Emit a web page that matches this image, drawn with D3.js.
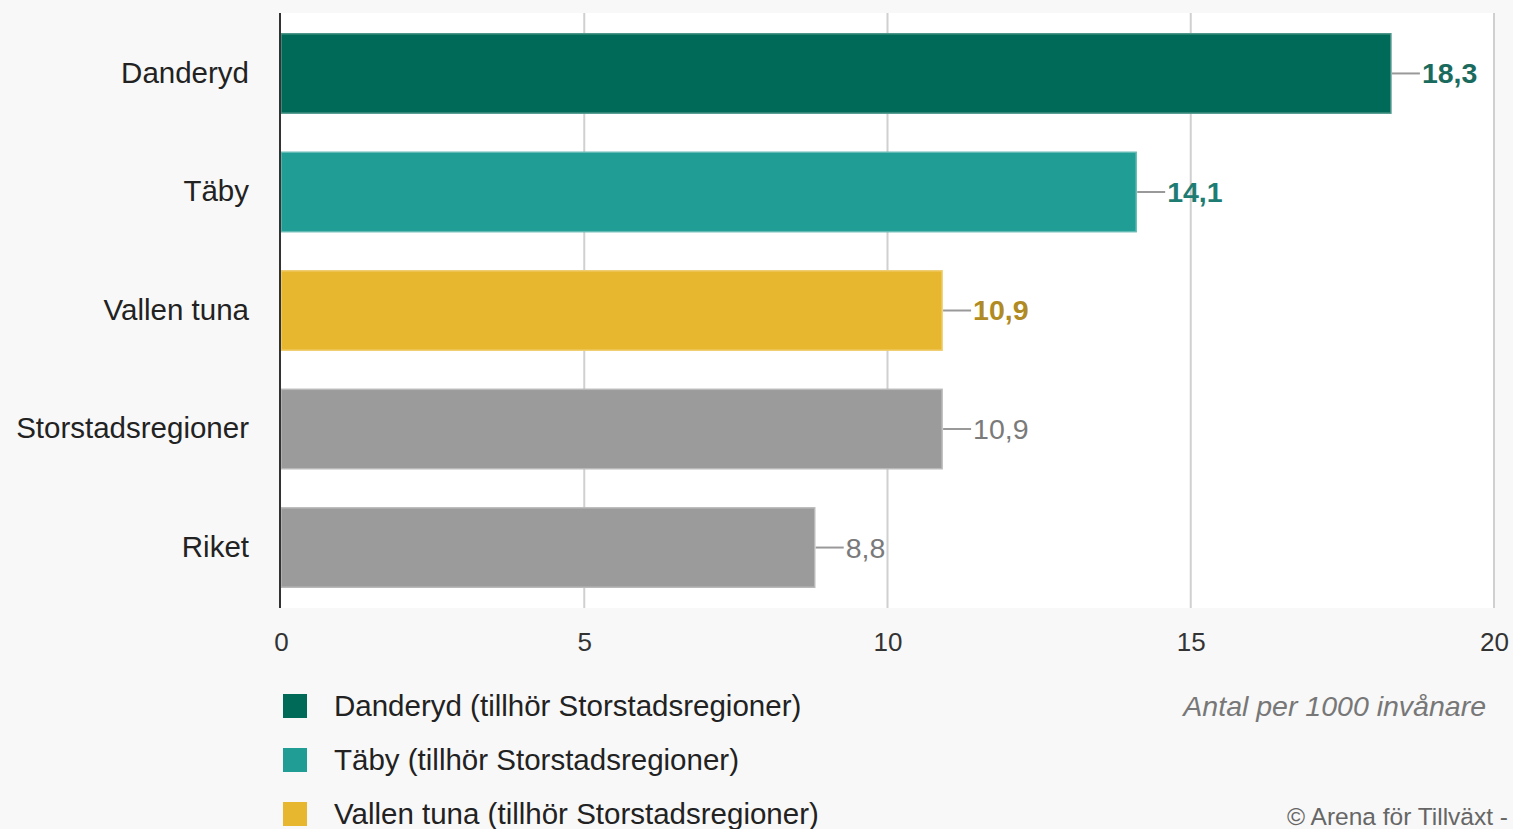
<!DOCTYPE html>
<html>
<head>
<meta charset="utf-8">
<script src="https://cdn.jsdelivr.net/npm/d3@7"></script>
<style>
  html, body { margin: 0; padding: 0; background: #f8f8f8; }
  svg { display: block; font-family: "Liberation Sans", Arial, sans-serif; }
</style>
</head>
<body>
<div id="chart"></div>
<script>
// data
var categories = ["Danderyd", "Täby", "Vallen tuna", "Storstadsregioner", "Riket"];
var values = [18.3, 14.1, 10.9, 10.9, 8.8];
var barColors = ["#006a58", "#209d94", "#e8b730", "#9b9b9b", "#9b9b9b"];
var labelColors = ["#1a6b5d", "#1e7c73", "#b08a22", "#7a7a7a", "#7a7a7a"];
var labelBold = [true, true, true, false, false];
var xTicks = [0, 5, 10, 15, 20];
var legendItems = ["Danderyd (tillhör Storstadsregioner)", "Täby (tillhör Storstadsregioner)", "Vallen tuna (tillhör Storstadsregioner)"];
var legendColors = ["#006a58", "#209d94", "#e8b730"];
var unitText = "Antal per 1000 invånare";
var sourceText = "© Arena för Tillväxt -";

var W = 1513, H = 829;
var margin = {top: 13, right: 19, bottom: 221, left: 281};
var width = W - margin.left - margin.right;
var height = H - margin.top - margin.bottom;

var svg = d3.select("#chart")
    .append("svg")
    .attr("width", W)
    .attr("height", H);

svg.append("rect")
    .attr("width", W).attr("height", H)
    .attr("fill", "#f8f8f8");

var g = svg.append("g")
    .attr("transform", "translate(" + margin.left + "," + margin.top + ")");

// plot background
g.append("rect")
    .attr("width", width).attr("height", height)
    .attr("fill", "#ffffff");

var x = d3.scaleLinear()
    .domain([0, 20])
    .range([0, width]);

var y = d3.scaleBand()
    .domain(categories)
    .range([0, height])
    .paddingInner(0.33)
    .paddingOuter(0.175);

// gridlines
g.append("g")
    .selectAll("line")
    .data(xTicks.filter(function(d) { return d > 0; }))
    .enter()
    .append("line")
    .attr("x1", function(d) { return x(d); })
    .attr("x2", function(d) { return x(d); })
    .attr("y1", 0)
    .attr("y2", height)
    .attr("stroke", "#d0d0d0")
    .attr("stroke-width", 2);

// x axis ticks
var xAxis = g.append("g")
    .attr("transform", "translate(0," + height + ")")
    .call(d3.axisBottom(x).tickValues(xTicks).tickSize(0).tickPadding(25).tickFormat(d3.format("d")));
xAxis.select(".domain").remove();
xAxis.selectAll("text")
    .attr("font-size", 26)
    .attr("font-family", "Liberation Sans, Arial, sans-serif")
    .attr("fill", "#333");

// y labels
var yAxis = g.append("g")
    .call(d3.axisLeft(y).tickSize(0).tickPadding(32));
yAxis.select(".domain").remove();
yAxis.selectAll("text")
    .attr("font-size", 29.5)
    .attr("font-family", "Liberation Sans, Arial, sans-serif")
    .attr("fill", "#222");

// bars
g.append("g")
    .selectAll("rect")
    .data(values)
    .enter()
    .append("rect")
    .attr("x", x(0))
    .attr("y", function(d, i) { return y(categories[i]); })
    .attr("width", function(d) { return x(d) - x(0); })
    .attr("height", y.bandwidth())
    .attr("fill", function(d, i) { return barColors[i]; })
    .attr("stroke", function(d, i) { return d3.interpolateRgb(barColors[i], "#ffffff")(0.3); })
    .attr("stroke-width", 1.5);

// leader lines
g.append("g")
    .selectAll("line")
    .data(values)
    .enter()
    .append("line")
    .attr("x1", function(d) { return x(d) + 1; })
    .attr("x2", function(d) { return x(d) + 29; })
    .attr("y1", function(d, i) { return y(categories[i]) + y.bandwidth() / 2; })
    .attr("y2", function(d, i) { return y(categories[i]) + y.bandwidth() / 2; })
    .attr("stroke", "#999")
    .attr("stroke-width", 2);

// value labels
g.append("g")
    .selectAll("text")
    .data(values)
    .enter()
    .append("text")
    .attr("x", function(d) { return x(d) + 31; })
    .attr("y", function(d, i) { return y(categories[i]) + y.bandwidth() / 2; })
    .attr("dy", "0.35em")
    .attr("font-size", 28.5)
    .attr("font-weight", function(d, i) { return labelBold[i] ? "bold" : "normal"; })
    .attr("fill", function(d, i) { return labelColors[i]; })
    .text(function(d) { return d.toFixed(1).replace(".", ","); });

// zero axis line
g.append("line")
    .attr("x1", x(0) - 1).attr("x2", x(0) - 1)
    .attr("y1", 0).attr("y2", height)
    .attr("stroke", "#333")
    .attr("stroke-width", 2);

// legend
var legend = svg.append("g")
    .attr("transform", "translate(283,706)");
var item = legend.selectAll("g")
    .data(legendItems)
    .enter()
    .append("g")
    .attr("transform", function(d, i) { return "translate(0," + (i * 54) + ")"; });
item.append("rect")
    .attr("x", 0).attr("y", -12)
    .attr("width", 24).attr("height", 24)
    .attr("fill", function(d, i) { return legendColors[i]; });
item.append("text")
    .attr("x", 51)
    .attr("dy", "0.35em")
    .attr("font-size", 29.5)
    .attr("fill", "#222")
    .text(function(d) { return d; });

// unit text
svg.append("text")
    .attr("x", 1486)
    .attr("y", 706)
    .attr("dy", "0.35em")
    .attr("text-anchor", "end")
    .attr("font-size", 28.5)
    .attr("font-style", "italic")
    .attr("fill", "#777")
    .text(unitText);

// source
svg.append("text")
    .attr("x", 1508)
    .attr("y", 816)
    .attr("dy", "0.35em")
    .attr("text-anchor", "end")
    .attr("font-size", 24.5)
    .attr("fill", "#666")
    .text(sourceText);
</script>
</body>
</html>
